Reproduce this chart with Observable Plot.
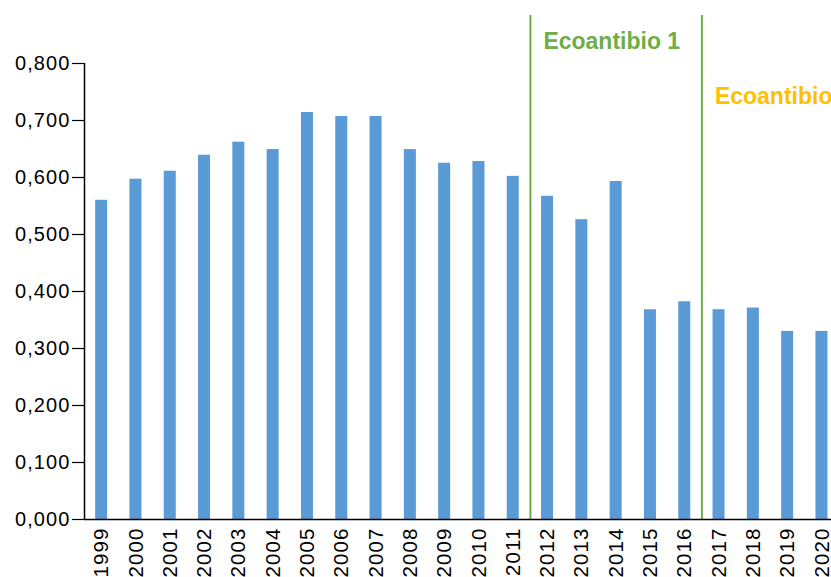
<!DOCTYPE html>
<html>
<head>
<meta charset="utf-8">
<script src="https://cdn.jsdelivr.net/npm/d3@7"></script>
<script src="https://cdn.jsdelivr.net/npm/@observablehq/plot@0.6"></script>
<style>
  html, body { margin: 0; padding: 0; background: #fff; overflow: hidden; }
  #chart svg { font-family: "Liberation Sans", Arial, sans-serif; color: #000; }
  g[aria-label="y-axis tick label"] text,
  g[aria-label="x-axis tick label"] text { letter-spacing: 1.1px; }
</style>
</head>
<body>
<div id="chart"></div>
<script>
// ---- data ----
const years = [1999, 2000, 2001, 2002, 2003, 2004, 2005, 2006, 2007, 2008, 2009,
               2010, 2011, 2012, 2013, 2014, 2015, 2016, 2017, 2018, 2019, 2020];
const values = [0.560, 0.597, 0.611, 0.639, 0.662, 0.649, 0.714, 0.707, 0.707, 0.649, 0.625,
                0.628, 0.602, 0.567, 0.526, 0.593, 0.368, 0.382, 0.368, 0.371, 0.330, 0.330];
const yTicks = [0, 0.1, 0.2, 0.3, 0.4, 0.5, 0.6, 0.7, 0.8];
const programmes = ["Ecoantibio 1", "Ecoantibio 2"];
const programmeStart = [2011.5, 2016.5];

const data = years.map((year, i) => ({year, value: values[i]}));
const progData = programmes.map((label, i) => ({label, start: programmeStart[i]}));

const xDomain = [years[0] - 0.5, years[years.length - 1] + 0.5];
const yDomain = [yTicks[0], yTicks[yTicks.length - 1]];
const halfBar = 0.175;

const locale = d3.formatLocale({decimal: ",", thousands: ".", grouping: [3], currency: ["", "€"]});
const fmt = locale.format(".3f");

const chart = Plot.plot({
  width: 831,
  height: 577,
  marginLeft: 84,
  marginRight: -8,
  marginTop: 15,
  marginBottom: 58,
  x: {domain: xDomain, range: [84, 838.6]},
  y: {domain: yDomain, range: [519, 63]},
  marks: [
    Plot.rectY(data, {x1: d => d.year - halfBar, x2: d => d.year + halfBar, y: "value", fill: "#5B9BD5"}),
    Plot.ruleX(progData, {x: "start", stroke: "#70AD47", strokeWidth: 2}),
    Plot.ruleY([yDomain[0]], {stroke: "#000", strokeWidth: 1.5}),
    Plot.ruleX([xDomain[0]], {y1: yDomain[0], y2: yDomain[1], stroke: "#000", strokeWidth: 1.5}),
    Plot.axisY(yTicks, {tickFormat: fmt, tickSize: 12, tickPadding: 2, fontSize: 20, label: null, strokeWidth: 1.2}),
    Plot.axisX(years, {tickFormat: d => String(d), tickRotate: -90, tickSize: 0, tickPadding: 8, fontSize: 20.5, label: null}),
    Plot.text(progData.slice(0, 1), {x: "start", text: "label", frameAnchor: "top", textAnchor: "start", lineAnchor: "bottom",
      dx: 13, dy: 33, fill: "#70AD47", fontSize: 23, fontWeight: "bold"}),
    Plot.text(progData.slice(1, 2), {x: "start", text: "label", frameAnchor: "top", textAnchor: "start", lineAnchor: "bottom",
      dx: 13, dy: 88, fill: "#FFC000", fontSize: 23, fontWeight: "bold"})
  ]
});
document.getElementById("chart").appendChild(chart);
</script>
</body>
</html>
